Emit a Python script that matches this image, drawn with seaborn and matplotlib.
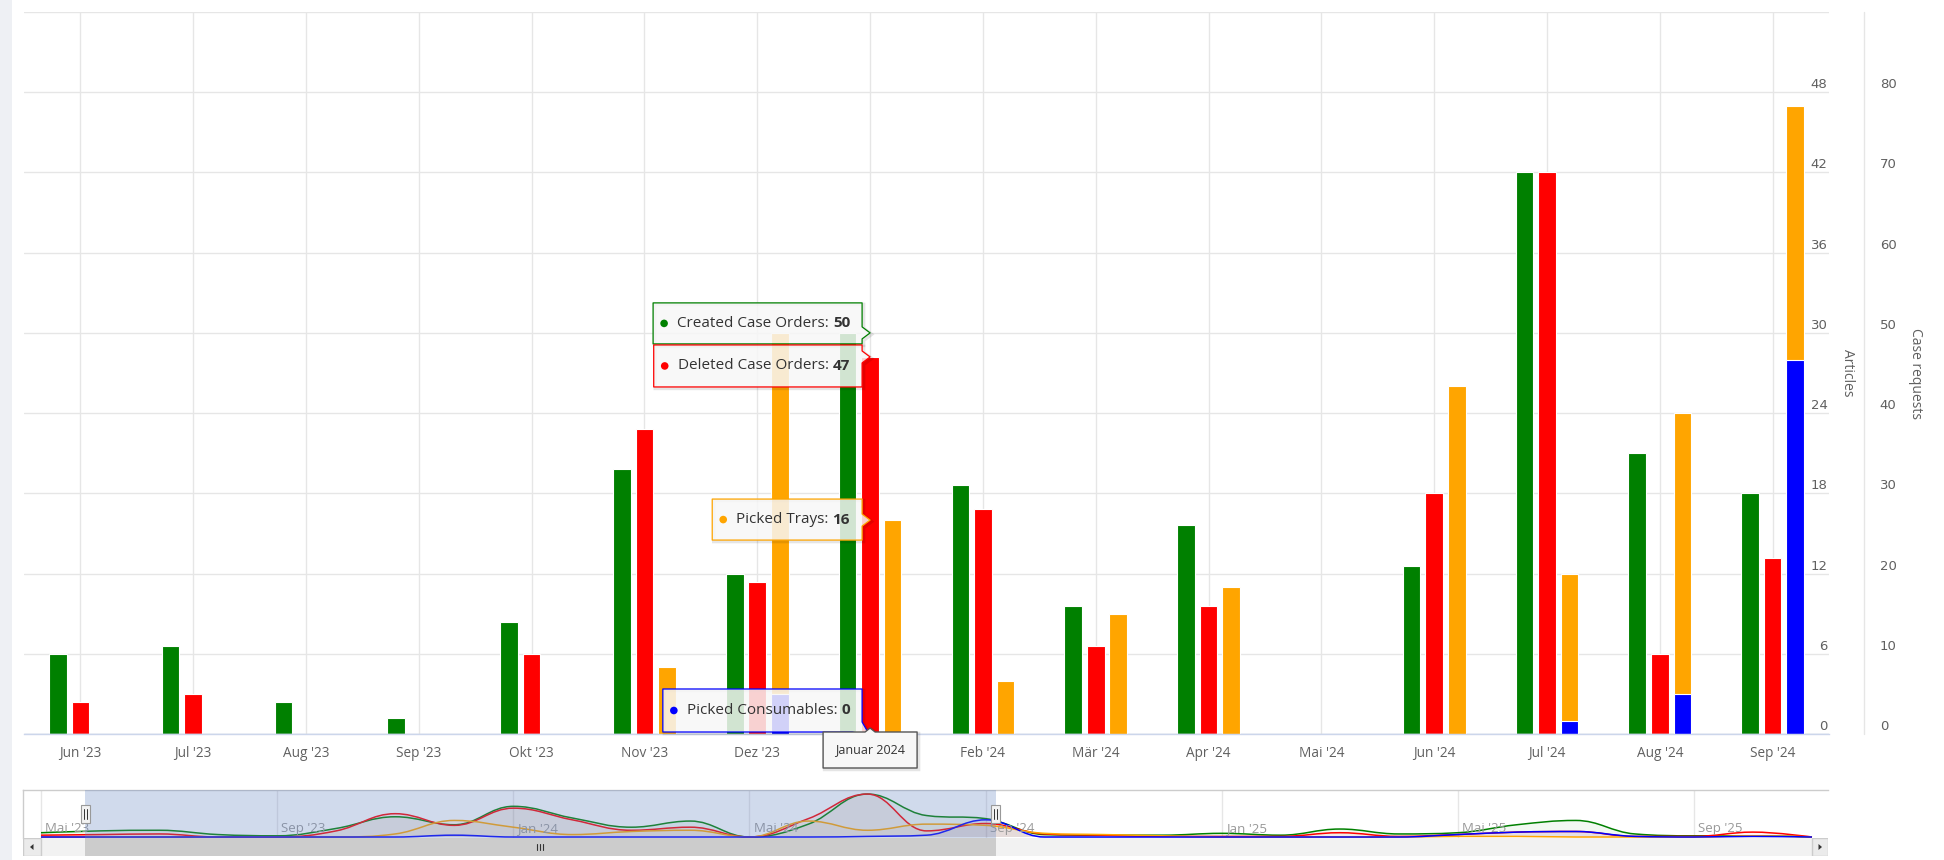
import numpy as np
import pandas as pd
import matplotlib
matplotlib.use("Agg")
import matplotlib.pyplot as plt
import seaborn as sns
from matplotlib.path import Path
from matplotlib.patches import PathPatch, Rectangle, Polygon, Circle
from matplotlib.lines import Line2D
from matplotlib.transforms import IdentityTransform

# ---------------------------------------------------------------- data
months = ["Jun '23", "Jul '23", "Aug '23", "Sep '23", "Okt '23", "Nov '23",
          "Dez '23", "Jan '24", "Feb '24", "Mär '24", "Apr '24", "Mai '24",
          "Jun '24", "Jul '24", "Aug '24", "Sep '24"]
created = [10, 11, 4, 2, 14, 33, 20, 50, 31, 16, 26, 0, 21, 70, 35, 30]
deleted = [4, 5, 0, 0, 10, 38, 19, 47, 28, 11, 16, 0, 30, 70, 10, 22]
trays = [0, 0, 0, 0, 0, 5, 27, 16, 4, 9, 11, 0, 26, 11, 21, 19]
consumables = [0, 0, 0, 0, 0, 0, 3, 0, 0, 0, 0, 0, 0, 1, 3, 28]

article_ticks = [0, 6, 12, 18, 24, 30, 36, 42, 48]
case_ticks = [0, 10, 20, 30, 40, 50, 60, 70, 80]

# navigator: whole history, Mai '23 .. Nov '25 (one point per month)
nav_created = [7] + created + [4, 3, 3, 6, 3, 13, 5, 7, 20, 27, 5, 2, 2, 0]
nav_deleted = [3] + deleted + [5, 3, 1, 1, 1, 7, 1, 4, 8, 9, 1, 1, 8, 0]
nav_trays = [0] + trays + [6, 4, 2, 0, 0, 0, 0, 1, 1, 0, 0, 0, 2, 0]
nav_consumables = [0] + consumables + [0, 0, 0, 0, 0, 0, 0, 4, 8, 9, 1, 0, 1, 0]
nav_tick_pos = [0, 4, 8, 12, 16, 20, 24, 28]
nav_tick_labels = ["Mai '23", "Sep '23", "Jan '24", "Mai '24", "Sep '24",
                   "Jan '25", "Mai '25", "Sep '25"]
selection = (0.75, 16.17)

hover = months.index("Jan '24")
hover_title = "Januar 2024"

GREEN, RED, ORANGE, BLUE = "#008000", "#ff0000", "#ffa500", "#0000ff"
GRID = "#e6e6e6"
LABEL = "#606060"

# ---------------------------------------------------------------- style
sns.set_theme(style="white")
plt.rcParams["font.family"] = ["Open Sans", "DejaVu Sans"]

W, H = 1944, 860
fig = plt.figure(figsize=(W / 100, H / 100), dpi=100)
fig.patch.set_facecolor("white")


def box(x0, y0, x1, y1):
    """Axes rectangle from pixel edges measured from the top-left corner."""
    return [x0 / W, 1 - y1 / H, (x1 - x0) / W, (y1 - y0) / H]


fig.add_artist(Rectangle((0, 0), 12 / W, 1, transform=fig.transFigure,
                         facecolor="#eef0f4", edgecolor="none", zorder=-5))

ax = fig.add_axes(box(24, 12, 1829, 734))      # case requests
ax2 = ax.twinx()                               # articles

slots = ["created", "deleted", "picked"]
case_df = pd.DataFrame({
    "month": months * 2,
    "value": created + deleted,
    "slot": ["created"] * len(months) + ["deleted"] * len(months),
})
case_df = case_df[case_df["value"] > 0]
picked_total = [t + c for t, c in zip(trays, consumables)]
tray_df = pd.DataFrame({"month": months, "value": picked_total, "slot": "picked"})
tray_df = tray_df[tray_df["value"] > 0]
cons_df = pd.DataFrame({"month": months, "value": consumables, "slot": "picked"})
cons_df = cons_df[cons_df["value"] > 0]

bar_kw = dict(x="month", y="value", hue="slot", order=months, hue_order=slots,
              width=0.6, gap=0.22, dodge=True, errorbar=None, saturation=1,
              edgecolor="white", linewidth=0.8, legend=False)
sns.barplot(data=case_df, palette={"created": GREEN, "deleted": RED, "picked": ORANGE},
            ax=ax, **bar_kw)
sns.barplot(data=tray_df, palette={"created": GREEN, "deleted": RED, "picked": ORANGE},
            ax=ax2, **bar_kw)
sns.barplot(data=cons_df, palette={"created": GREEN, "deleted": RED, "picked": BLUE},
            ax=ax2, **bar_kw)

ax.set_xlim(-0.5, len(months) - 0.5)
ax.set_ylim(0, 90)
ax2.set_ylim(0, 54)
for a in (ax, ax2):
    a.set_xlabel("")
    a.set_ylabel("")
    for s in a.spines.values():
        s.set_visible(False)
ax.spines["bottom"].set_visible(True)
ax.spines["bottom"].set_color("#ccd6eb")
ax.spines["bottom"].set_linewidth(1)
ax.set_facecolor("white")

ax.set_yticks(np.arange(0, 91, 10))
ax.set_yticklabels([])
ax.tick_params(axis="y", length=0)
ax2.set_yticks([])
ax.set_axisbelow(True)
ax.yaxis.grid(True, color=GRID, linewidth=1)
ax.xaxis.grid(True, color=GRID, linewidth=1)
ax.set_xticks(range(len(months)))
# the hovered month's tick label is replaced by the crosshair label below
ax.set_xticklabels([m if i != hover else "" for i, m in enumerate(months)])
ax.tick_params(axis="x", length=7.2, width=0.72, color="#ccd6eb",
               labelsize=9.8, labelcolor=LABEL, pad=1.5)
ax2.axhline(0, color="#ccd6eb", linewidth=1, zorder=5)

for v in article_ticks:
    ax2.annotate(str(v), xy=(1, v), xycoords=("axes fraction", "data"),
                 xytext=(-1, 5.4), textcoords="offset points", ha="right",
                 va="center", fontsize=9.5, color=LABEL, family="DejaVu Sans")
for v in case_ticks:
    ax.annotate(str(v), xy=(1, v), xycoords=("axes fraction", "data"),
                xytext=(36.5, 5.4), textcoords="offset points", ha="left",
                va="center", fontsize=9.5, color=LABEL, family="DejaVu Sans",
                annotation_clip=False)

line_x = (1864 - 24) / (1829 - 24)
ax.add_line(Line2D([line_x, line_x], [0, 1], transform=ax.transAxes,
                   clip_on=False, color=GRID, linewidth=1))
fig.text(1847 / W, 1 - 373 / H, "Articles", rotation=270, ha="center",
         va="center", fontsize=10, color=LABEL)
fig.text(1915 / W, 1 - 373 / H, "Case requests", rotation=270, ha="center",
         va="center", fontsize=10, color=LABEL)

# ---------------------------------------------------------------- tooltips
renderer = fig.canvas.get_renderer()
ident = IdentityTransform()


def text_width(s, **kw):
    t = fig.text(0, 0, s, **kw)
    w = t.get_window_extent(renderer).width
    t.remove()
    return w


def add_shape(verts, edge, face=(0.969, 0.969, 0.969, 0.85), lw=0.9):
    shadow = Polygon([(x + 1.5, y - 1.5) for x, y in verts], closed=True,
                     transform=ident, facecolor="none",
                     edgecolor=(0, 0, 0, 0.10), linewidth=2.5, zorder=19)
    fig.add_artist(shadow)
    fig.add_artist(Polygon(verts, closed=True, transform=ident, facecolor=face,
                           edgecolor=edge, linewidth=lw, joinstyle="round",
                           zorder=20))


def tooltip(axis, value, color, label, top, bottom, pointer="right"):
    tx, ty = axis.transData.transform((hover, value))
    fs = 11
    wl = text_width(label + ":", fontsize=fs)
    wv = text_width(str(value), fontsize=fs, fontweight="bold")
    R = tx - 8
    L = R - (24 + wl + 4 + wv + 12)
    T, B = ty + top, ty + bottom
    if pointer == "right":
        a, b = max(B, ty - 6), min(T, ty + 6)
        verts = [(L, B), (R, B), (R, a), (tx, ty), (R, b), (R, T), (L, T)]
    else:
        verts = [(L, B), (R - 10, B), (tx, ty - 2), (R, B + 10), (R, T), (L, T)]
    add_shape(verts, color)
    mid = (T + B) / 2
    fig.add_artist(Circle((L + 11, mid), 3.8, transform=ident, facecolor=color,
                          edgecolor="none", zorder=21))
    fig.text(L + 24, mid, label + ":", transform=ident, fontsize=fs,
             color="#333333", ha="left", va="center", zorder=21)
    fig.text(L + 24 + wl + 4, mid, str(value), transform=ident, fontsize=fs,
             fontweight="bold", color="#333333", ha="left", va="center",
             zorder=21)


tooltip(ax, created[hover], GREEN, "Created Case Orders", 30, -11)
tooltip(ax, deleted[hover], RED, "Deleted Case Orders", 12, -30)
tooltip(ax2, trays[hover], ORANGE, "Picked Trays", 21, -20)
tooltip(ax2, consumables[hover], BLUE, "Picked Consumables", 45, 2, pointer="down")

# crosshair label on the x axis
cx, cy = ax.transData.transform((hover, 0))
tw = text_width(hover_title, fontsize=9)
L, R = cx - tw / 2 - 12, cx + tw / 2 + 12
T, B = cy + 2, cy - 34
add_shape([(L, B), (R, B), (R, T), (cx + 5, T), (cx, T + 4), (cx - 5, T), (L, T)],
          "#555555", face=(0.97, 0.97, 0.97, 1.0), lw=1.0)
fig.text(cx, (T + B) / 2, hover_title, transform=ident, fontsize=9,
         color="#333333", ha="center", va="center", zorder=21)

# ---------------------------------------------------------------- navigator
nav = fig.add_axes(box(23, 790, 1828, 838))
xlim_nav = (-18 / 59, 30 + 16 / 59)
nav.set_xlim(*xlim_nav)
nav.set_ylim(-1.6, 76.6)
nav.set_facecolor("white")
nav.set_xticks([])
nav.set_yticks([])
for k, s in nav.spines.items():
    s.set_visible(k in ("top", "left"))
    s.set_color("#cccccc")
    s.set_linewidth(1)


def spline_paths(xs, ys, smoothing=1.5):
    n = len(xs)
    denom = smoothing + 1
    lc = [(x, y) for x, y in zip(xs, ys)]
    rc = [(x, y) for x, y in zip(xs, ys)]
    for i in range(1, n - 1):
        px, py = xs[i], ys[i]
        lx, ly = xs[i - 1], ys[i - 1]
        nx, ny = xs[i + 1], ys[i + 1]
        lcx = (smoothing * px + lx) / denom
        lcy = (smoothing * py + ly) / denom
        rcx = (smoothing * px + nx) / denom
        rcy = (smoothing * py + ny) / denom
        if rcx != lcx:
            corr = (rcy - lcy) * (rcx - px) / (rcx - lcx) + py - rcy
            lcy += corr
            rcy += corr
        if lcy > ly and lcy > py:
            lcy = max(ly, py)
            rcy = 2 * py - lcy
        elif lcy < ly and lcy < py:
            lcy = min(ly, py)
            rcy = 2 * py - lcy
        if rcy > ny and rcy > py:
            rcy = max(ny, py)
            lcy = 2 * py - rcy
        elif rcy < ny and rcy < py:
            rcy = min(ny, py)
            lcy = 2 * py - rcy
        lc[i] = (lcx, lcy)
        rc[i] = (rcx, rcy)
    verts = [(xs[0], ys[0])]
    codes = [Path.MOVETO]
    for i in range(1, n):
        verts += [rc[i - 1], lc[i], (xs[i], ys[i])]
        codes += [Path.CURVE4] * 3
    line = Path(verts, codes)
    area = Path(verts + [(xs[-1], 0), (xs[0], 0), (xs[0], ys[0])],
                codes + [Path.LINETO, Path.LINETO, Path.CLOSEPOLY])
    return line, area


nav_x = list(range(len(nav_created)))
for t in nav_tick_pos:
    nav.axvline(t, color=GRID, linewidth=1, zorder=1)
for vals, color in zip([nav_created, nav_deleted, nav_trays, nav_consumables],
                       [GREEN, RED, ORANGE, BLUE]):
    line, area = spline_paths(nav_x, vals)
    nav.add_patch(PathPatch(area, facecolor=color, alpha=0.05, edgecolor="none", zorder=2))
    nav.add_patch(PathPatch(line, facecolor="none", edgecolor=color, linewidth=1.1, zorder=3))
for t, lbl in zip(nav_tick_pos, nav_tick_labels):
    nav.annotate(lbl, xy=(t, 0), xycoords=("data", "axes fraction"),
                 xytext=(3, 6.5), textcoords="offset points", ha="left",
                 va="center", fontsize=9.5, color="#999999", zorder=4)
nav.axvspan(selection[0], selection[1], facecolor=(102 / 255, 133 / 255, 194 / 255),
            alpha=0.3, linewidth=0, zorder=5)

# scrollbar
sb = fig.add_axes(box(23, 838, 1828, 856))
sb.set_xlim(*xlim_nav)
sb.set_ylim(0, 1)
sb.set_facecolor("#f2f2f2")
sb.set_xticks([])
sb.set_yticks([])
for s in sb.spines.values():
    s.set_visible(False)
sb.add_patch(Rectangle((selection[0], 0), selection[1] - selection[0], 1,
                       facecolor="#cccccc", edgecolor="none"))
sb.add_patch(Rectangle((xlim_nav[0], 0), -xlim_nav[0], 1, facecolor="#ebebeb",
                       edgecolor="#cccccc", linewidth=1))
last = len(nav_x) - 1
sb.add_patch(Rectangle((last, 0), xlim_nav[1] - last, 1, facecolor="#ebebeb",
                       edgecolor="#cccccc", linewidth=1))

for s_val in selection:
    hx = nav.transData.transform((s_val, 0))[0]
    fig.add_artist(Rectangle((hx - 4.5, 37), 9, 18, transform=ident,
                             facecolor="#f2f2f2", edgecolor="#999999",
                             linewidth=0.8, zorder=30))
    for dx in (-1.5, 1.5):
        fig.add_artist(Line2D([hx + dx, hx + dx], [41, 51], transform=ident,
                              color="#333333", linewidth=0.7, zorder=31))

gx = sb.transData.transform(((selection[0] + selection[1]) / 2, 0))[0]
for dx in (-3, 0, 3):
    fig.add_artist(Line2D([gx + dx, gx + dx], [10, 16], transform=ident,
                          color="#333333", linewidth=0.8, zorder=31))
lb = sb.transData.transform((xlim_nav[0] / 2, 0))[0]
rb = sb.transData.transform(((last + xlim_nav[1]) / 2, 0))[0]
fig.add_artist(Polygon([(lb - 2, 13), (lb + 1.5, 16), (lb + 1.5, 10)], closed=True,
                       transform=ident, facecolor="#333333", edgecolor="none", zorder=31))
fig.add_artist(Polygon([(rb + 2, 13), (rb - 1.5, 16), (rb - 1.5, 10)], closed=True,
                       transform=ident, facecolor="#333333", edgecolor="none", zorder=31))

fig.savefig("out.png", dpi=100)
